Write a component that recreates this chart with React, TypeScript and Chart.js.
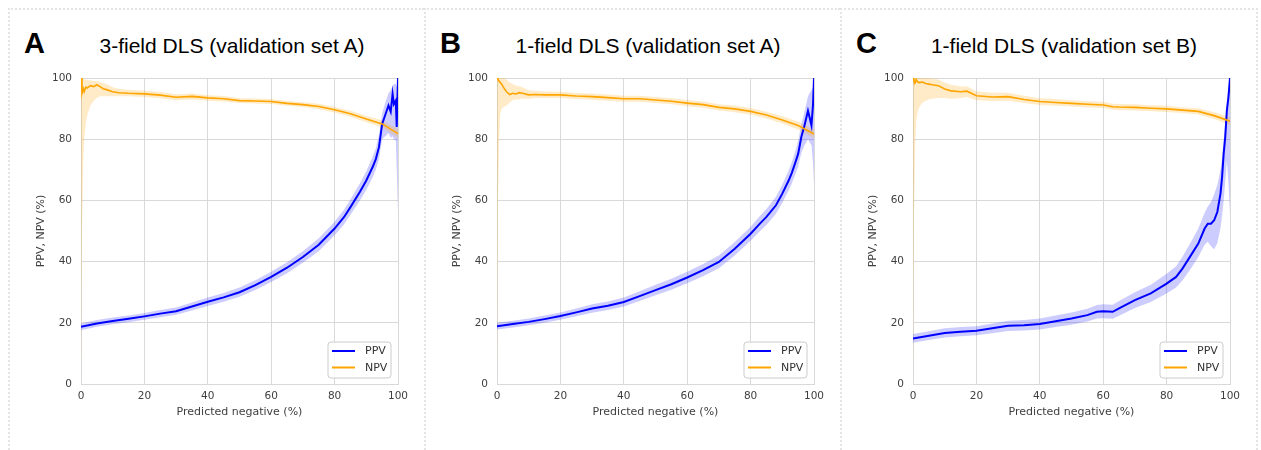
import React, { useEffect, useRef } from "react";
import { Chart, registerables } from "chart.js";

Chart.register(...registerables);

// ---------- text ----------
const LETTERS = ["A", "B", "C"];
const TITLES = [
  "3-field DLS (validation set A)",
  "1-field DLS (validation set A)",
  "1-field DLS (validation set B)",
];
const SERIES_LABELS = ["PPV", "NPV"];
const X_TITLE = "Predicted negative (%)";
const Y_TITLE = "PPV, NPV (%)";
const TICKS = [0, 20, 40, 60, 80, 100];

// ---------- panel A ----------
const A_PPV_X = [0, 5, 10, 15, 20, 25, 30, 35, 40, 45, 50, 55, 60, 65, 70, 75, 80, 83, 85, 88, 90, 92, 93, 94, 95, 96, 97, 97.7, 98.3, 98.7, 99.3, 99.6, 100];
const A_PPV = [18.7, 19.8, 20.6, 21.3, 22.1, 23.0, 23.8, 25.3, 26.9, 28.3, 30.0, 32.3, 35.0, 38.0, 41.5, 45.5, 50.8, 54.6, 57.8, 62.8, 66.5, 70.9, 73.5, 77.4, 85.0, 88.0, 91.0, 89.0, 94.8, 91.5, 92.6, 84.0, 100];
const A_PPV_LO = [17.6, 18.7, 19.5, 20.2, 21.0, 21.8, 22.6, 24.0, 25.5, 26.9, 28.5, 30.7, 33.3, 36.2, 39.6, 43.4, 48.6, 52.2, 55.3, 60.0, 63.5, 67.5, 70.0, 73.5, 80.0, 81.0, 82.0, 80.5, 81.0, 80.0, 79.5, 70.0, 56.0];
const A_PPV_HI = [19.8, 20.9, 21.7, 22.4, 23.2, 24.2, 25.0, 26.6, 28.3, 29.7, 31.5, 33.9, 36.7, 39.8, 43.4, 47.6, 53.0, 57.0, 60.3, 65.6, 69.5, 74.3, 77.0, 81.3, 88.5, 92.0, 95.0, 96.0, 97.5, 98.0, 98.0, 97.0, 100];
const A_NPV_X = [0, 0.3, 0.7, 1, 1.5, 2, 3, 4, 5, 6, 7, 8, 10, 12, 15, 20, 25, 30, 35, 40, 45, 50, 55, 60, 65, 70, 75, 80, 85, 90, 95, 100];
const A_NPV = [100, 95.0, 96.5, 95.5, 97.0, 96.8, 97.5, 97.2, 97.8, 97.2, 96.5, 96.2, 95.5, 95.2, 95.0, 94.8, 94.4, 93.7, 94.0, 93.5, 93.2, 92.6, 92.5, 92.3, 91.7, 91.3, 90.7, 89.6, 88.3, 86.6, 85.0, 81.8];
const A_NPV_LO = [0, 50, 72, 80, 85, 88, 91, 92.5, 93.5, 94, 94, 94, 94, 94, 94, 93.8, 93.4, 92.7, 93.0, 92.6, 92.3, 91.8, 91.7, 91.5, 90.9, 90.5, 89.8, 88.7, 87.3, 85.5, 83.8, 80.3];
const A_NPV_HI = [100, 100, 100, 99.5, 99.5, 99.3, 99.3, 99, 99, 98.8, 98.3, 98, 97, 96.5, 96.2, 95.8, 95.4, 94.7, 94.9, 94.4, 94.1, 93.4, 93.3, 93.1, 92.5, 92.1, 91.6, 90.5, 89.3, 87.7, 86.2, 83.3];

// ---------- panel B ----------
const B_PPV_X = [0, 5, 10, 15, 20, 25, 30, 35, 40, 45, 50, 55, 60, 65, 70, 75, 80, 83, 85, 88, 90, 92, 93, 94, 95, 96, 97, 98.1, 98.6, 99.2, 99.7, 100];
const B_PPV = [18.9, 19.6, 20.3, 21.2, 22.2, 23.4, 24.7, 25.6, 26.8, 28.7, 30.7, 32.6, 34.8, 37.2, 39.9, 44.2, 49.1, 52.5, 54.6, 58.4, 62.2, 66.5, 69.0, 72.0, 75.2, 80.7, 84.5, 89.3, 87.2, 84.5, 91.5, 100];
const B_PPV_LO = [17.8, 18.5, 19.2, 20.0, 21.0, 22.1, 23.3, 24.2, 25.3, 27.1, 29.0, 30.8, 32.9, 35.2, 37.8, 42.0, 46.8, 50.0, 52.0, 55.6, 59.2, 63.2, 65.5, 68.3, 71.0, 75.5, 78.0, 80.0, 79.0, 78.0, 72.0, 65.0];
const B_PPV_HI = [20.0, 20.7, 21.4, 22.4, 23.4, 24.7, 26.1, 27.0, 28.3, 30.3, 32.4, 34.4, 36.7, 39.2, 42.0, 46.4, 51.4, 55.0, 57.2, 61.2, 65.2, 69.8, 72.5, 75.7, 79.4, 85.0, 89.0, 94.0, 95.0, 96.0, 97.0, 100];
const B_NPV_X = [0, 0.3, 0.7, 1, 1.5, 2, 3, 4, 5, 6, 7, 8, 10, 12, 15, 20, 25, 30, 35, 40, 45, 50, 55, 60, 65, 70, 75, 80, 85, 90, 95, 100];
const B_NPV = [100, 99.5, 99.0, 98.5, 98.0, 97.0, 95.5, 94.6, 95.0, 94.8, 95.2, 95.0, 94.5, 94.6, 94.5, 94.5, 94.1, 93.9, 93.6, 93.2, 93.2, 92.8, 92.4, 91.8, 91.3, 90.4, 89.9, 89.1, 87.9, 86.3, 84.5, 81.7];
const B_NPV_LO = [0, 60, 80, 88, 90, 90.5, 91, 92, 92.8, 93, 93, 93.2, 93.2, 93.5, 93.5, 93.5, 93.1, 92.9, 92.6, 92.2, 92.2, 91.8, 91.4, 90.8, 90.3, 89.4, 88.8, 88.0, 86.8, 85.1, 83.2, 80.3];
const B_NPV_HI = [100, 100, 100, 100, 100, 100, 99.5, 98.5, 98.0, 97.5, 97.3, 97.0, 96.0, 95.8, 95.6, 95.5, 95.1, 94.9, 94.6, 94.2, 94.2, 93.8, 93.4, 92.8, 92.3, 91.4, 91.0, 90.2, 89.0, 87.5, 85.8, 83.1];

// ---------- panel C ----------
const C_PPV_X = [0, 5, 10, 15, 20, 25, 30, 35, 40, 45, 50, 55, 58, 60, 63, 65, 70, 75, 80, 83, 85, 88, 90, 92, 93, 94, 95, 96, 97, 97.5, 98, 98.5, 99, 99.5, 100];
const C_PPV = [14.9, 15.8, 16.7, 17.1, 17.4, 18.2, 19.0, 19.2, 19.6, 20.5, 21.4, 22.5, 23.6, 23.8, 23.6, 24.7, 27.4, 29.6, 32.8, 35.0, 37.7, 42.6, 45.9, 50.8, 52.4, 52.4, 53.5, 56.2, 62.2, 67.6, 75.2, 80.7, 89.3, 93.7, 100];
const C_PPV_LO = [13.5, 14.4, 15.2, 15.6, 15.9, 16.6, 17.3, 17.5, 17.8, 18.6, 19.4, 20.4, 21.4, 21.5, 21.3, 22.3, 24.8, 26.8, 29.6, 31.5, 33.8, 38.2, 41.5, 45.5, 46.5, 45.0, 44.0, 46.0, 51.0, 55.0, 60.0, 66.0, 73.0, 66.0, 55.6];
const C_PPV_HI = [16.3, 17.2, 18.2, 18.6, 18.9, 19.8, 20.7, 20.9, 21.4, 22.4, 23.4, 24.6, 25.8, 26.1, 25.9, 27.1, 30.0, 32.4, 36.0, 38.5, 41.6, 47.0, 50.8, 56.0, 58.0, 59.5, 62.0, 65.0, 70.0, 74.0, 80.0, 85.0, 92.0, 97.0, 100];
const C_NPV_X = [0, 0.3, 0.7, 1, 1.5, 2, 3, 4, 5, 6, 8, 10, 12, 15, 17, 20, 25, 30, 35, 40, 45, 50, 55, 60, 63, 65, 70, 75, 80, 85, 90, 95, 100];
const C_NPV = [100, 99.0, 98.5, 99.5, 98.7, 98.5, 98.7, 98.2, 98.0, 97.8, 97.5, 96.4, 95.8, 95.5, 95.7, 94.2, 93.8, 93.9, 93.0, 92.3, 92.0, 91.7, 91.4, 91.2, 90.6, 90.5, 90.4, 90.1, 89.9, 89.5, 89.1, 87.7, 85.9];
const C_NPV_LO = [0, 55, 78, 86, 89, 90.5, 92, 92.5, 93, 93.2, 93.5, 93.5, 93.2, 93.5, 93.8, 92.7, 92.4, 92.6, 91.8, 91.2, 90.9, 90.7, 90.4, 90.2, 89.6, 89.5, 89.4, 89.1, 88.9, 88.6, 88.1, 86.6, 84.6];
const C_NPV_HI = [100, 100, 100, 100, 100, 100, 100, 100, 100, 99.8, 99.5, 98.5, 97.8, 97.2, 97.3, 95.7, 95.2, 95.2, 94.2, 93.4, 93.1, 92.7, 92.4, 92.2, 91.6, 91.5, 91.4, 91.1, 90.9, 90.4, 90.1, 88.8, 87.2];

const PANEL_DATA = [
  { ppv: [A_PPV_X, A_PPV, A_PPV_LO, A_PPV_HI], npv: [A_NPV_X, A_NPV, A_NPV_LO, A_NPV_HI] },
  { ppv: [B_PPV_X, B_PPV, B_PPV_LO, B_PPV_HI], npv: [B_NPV_X, B_NPV, B_NPV_LO, B_NPV_HI] },
  { ppv: [C_PPV_X, C_PPV, C_PPV_LO, C_PPV_HI], npv: [C_NPV_X, C_NPV, C_NPV_LO, C_NPV_HI] },
];

const PPV_COLOR = "#0000ff";
const NPV_COLOR = "#ffa500";
const PPV_BAND = "rgba(0,0,255,0.2)";
const NPV_BAND = "rgba(255,165,0,0.22)";
const GRID = "#d9d9d9";
const TEXT = "#404040";

function pts(xs: number[], ys: number[]) {
  return xs.map((x, i) => ({ x, y: ys[i] }));
}

const boxLegend = {
  id: "boxLegend",
  afterDraw(chart: any) {
    const { ctx, chartArea } = chart;
    const items = chart.data.datasets.filter((d: any) => d.inLegend);
    const w = 63;
    const h = 36;
    const x0 = chartArea.right - 7 - w;
    const y0 = chartArea.bottom - 6 - h;
    ctx.save();
    ctx.beginPath();
    const r = 3;
    ctx.moveTo(x0 + r, y0);
    ctx.arcTo(x0 + w, y0, x0 + w, y0 + h, r);
    ctx.arcTo(x0 + w, y0 + h, x0, y0 + h, r);
    ctx.arcTo(x0, y0 + h, x0, y0, r);
    ctx.arcTo(x0, y0, x0 + w, y0, r);
    ctx.closePath();
    ctx.fillStyle = "rgba(255,255,255,0.85)";
    ctx.fill();
    ctx.strokeStyle = "#cccccc";
    ctx.lineWidth = 1;
    ctx.stroke();
    ctx.font = "11px 'DejaVu Sans'";
    ctx.textBaseline = "middle";
    ctx.textAlign = "left";
    items.forEach((d: any, i: number) => {
      const y = y0 + 9 + i * 16.5;
      ctx.beginPath();
      ctx.strokeStyle = d.borderColor;
      ctx.lineWidth = 2;
      ctx.moveTo(x0 + 4, y);
      ctx.lineTo(x0 + 27, y);
      ctx.stroke();
      ctx.fillStyle = "#333333";
      ctx.fillText(d.label, x0 + 37, y + 0.5);
    });
    ctx.restore();
  },
};

function Panel({ index }: { index: number }) {
  const ref = useRef<HTMLCanvasElement>(null);
  useEffect(() => {
    const d = PANEL_DATA[index];
    const [px, py, plo, phi] = d.ppv;
    const [nx, ny, nlo, nhi] = d.npv;
    const band = (data: any, fill: any, color: string, order: number) => ({
      label: "",
      data,
      borderWidth: 0,
      borderColor: "rgba(0,0,0,0)",
      backgroundColor: color,
      pointRadius: 0,
      fill,
      order,
    });
    const chart = new Chart(ref.current as HTMLCanvasElement, {
      type: "line",
      data: {
        datasets: [
          band(pts(px, plo), false, PPV_BAND, 5),
          band(pts(px, phi), "-1", PPV_BAND, 4),
          band(pts(nx, nlo), false, NPV_BAND, 3),
          band(pts(nx, nhi), "-1", NPV_BAND, 2),
          {
            label: SERIES_LABELS[0],
            data: pts(px, py),
            borderColor: PPV_COLOR,
            backgroundColor: PPV_COLOR,
            borderWidth: 2,
            pointRadius: 0,
            fill: false,
            order: 1,
            inLegend: true,
          } as any,
          {
            label: SERIES_LABELS[1],
            data: pts(nx, ny),
            borderColor: NPV_COLOR,
            backgroundColor: NPV_COLOR,
            borderWidth: 1.6,
            pointRadius: 0,
            fill: false,
            order: 0,
            inLegend: true,
          } as any,
        ],
      },
      options: {
        responsive: false,
        animation: false,
        events: [],
        layout: { padding: { top: 18, right: 17, left: 0, bottom: 0 } },
        plugins: {
          legend: { display: false },
          tooltip: { enabled: false },
          filler: { drawTime: "beforeDatasetsDraw" },
        } as any,
        scales: {
          x: {
            type: "linear",
            min: 0,
            max: 100,
            afterBuildTicks: (s: any) => {
              s.ticks = TICKS.map((v) => ({ value: v }));
            },
            afterFit: (s: any) => {
              s.height = 36;
            },
            grid: { color: GRID, drawTicks: false, lineWidth: 1 },
            border: { color: GRID },
            ticks: {
              padding: 6,
              color: TEXT,
              font: { family: "'DejaVu Sans'", size: 10.5 },
              maxRotation: 0,
            },
            title: {
              display: true,
              text: X_TITLE,
              color: TEXT,
              font: { family: "'DejaVu Sans'", size: 11 },
              padding: { top: 0, bottom: 1 },
            },
          },
          y: {
            type: "linear",
            min: 0,
            max: 100,
            afterBuildTicks: (s: any) => {
              s.ticks = TICKS.map((v) => ({ value: v }));
            },
            afterFit: (s: any) => {
              s.width = 61;
            },
            grid: { color: GRID, drawTicks: false, lineWidth: 1 },
            border: { color: GRID },
            ticks: {
              padding: 9,
              color: TEXT,
              font: { family: "'DejaVu Sans'", size: 10.5 },
            },
            title: {
              display: true,
              text: Y_TITLE,
              color: TEXT,
              font: { family: "'DejaVu Sans'", size: 11 },
              padding: { top: 15, bottom: 0 },
            },
          },
        },
      },
      plugins: [boxLegend],
    });
    return () => chart.destroy();
  }, [index]);

  const off = index * 416;
  const last = index === LETTERS.length - 1;
  return (
    <>
      <div
        style={{
          position: "absolute",
          left: 8 + off,
          top: 8,
          width: last ? 418 : 416,
          height: 470,
          boxSizing: "border-box",
          borderLeft: "2px dotted #e4e4e4",
          borderTop: "2px dotted #e4e4e4",
          borderRight: last ? "2px dotted #e4e4e4" : "none",
        }}
      />
      <div
        style={{
          position: "absolute",
          left: 24 + off,
          top: 28.5,
          fontFamily: "'Liberation Sans', Arial, sans-serif",
          fontWeight: "bold",
          fontSize: 29,
          lineHeight: "29px",
          color: "#000",
        }}
      >
        {LETTERS[index]}
      </div>
      <div
        style={{
          position: "absolute",
          left: 232 - 170 + off,
          width: 340,
          top: 35.2,
          textAlign: "center",
          fontFamily: "'Liberation Sans', Arial, sans-serif",
          fontSize: 21,
          lineHeight: "21px",
          color: "#000",
          whiteSpace: "nowrap",
        }}
      >
        {TITLES[index]}
      </div>
      <canvas
        ref={ref}
        width={395}
        height={360}
        style={{ position: "absolute", left: 20 + off, top: 60, width: 395, height: 360 }}
      />
    </>
  );
}

export default function App() {
  return (
    <div
      style={{
        position: "fixed",
        left: 0,
        top: 0,
        width: 1261,
        height: 450,
        overflow: "hidden",
        background: "#fff",
      }}
    >
      {LETTERS.map((_, i) => (
        <Panel key={i} index={i} />
      ))}
    </div>
  );
}
